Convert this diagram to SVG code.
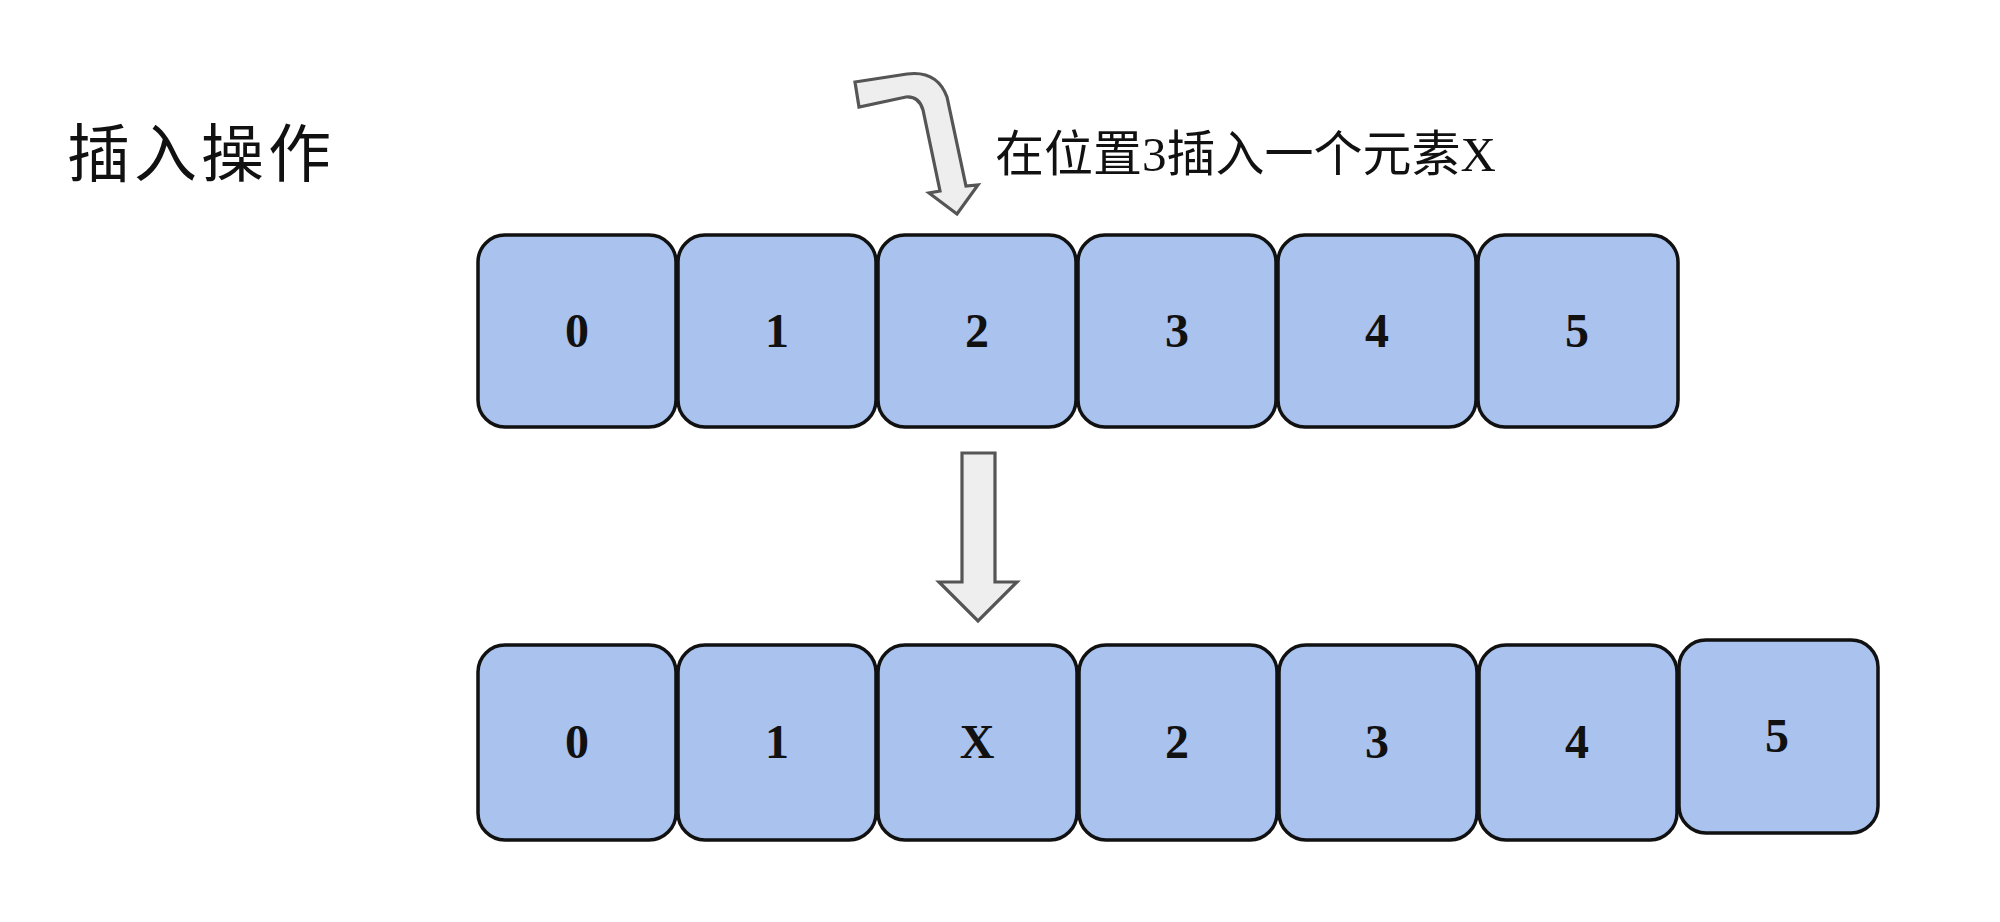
<svg xmlns="http://www.w3.org/2000/svg" width="2000" height="922" viewBox="0 0 2000 922">
<style>
.box{fill:#a9c2ee;stroke:#111;stroke-width:3.5}
.lbl{font-family:"Liberation Serif","Times New Roman",serif;font-weight:bold;font-size:48px;fill:#111;text-anchor:middle}
.arr{fill:#eeeeee;stroke:#555555;stroke-width:3.2;stroke-linejoin:miter}
.cjk{font-family:"Liberation Serif","Noto Sans CJK SC",serif;fill:#111}
</style>
<rect width="2000" height="922" fill="#ffffff"/>
<text id="title" class="cjk" x="67" y="176" font-size="63" letter-spacing="4">插入操作</text>
<text id="note" class="cjk" x="995" y="171" font-size="49">在位置3插入一个元素X</text>
<g id="connectors">
<path class="arr" d="M855,82 L907,74 Q937,70 947,97 L966,186 L978,185 L957,214 L929,193 L940,191 L923,110 Q919,96 906,97 L859,107 Z"/>
<path class="arr" d="M962,453 L995,453 L995,582 L1017,582 L978,621 L939,582 L962,582 Z"/>
</g>
<g id="top-row">
<g id="t0"><rect class="box" x="478" y="235" width="198" height="192" rx="27"/><text class="lbl" x="577" y="347">0</text></g>
<g id="t1"><rect class="box" x="678" y="235" width="198" height="192" rx="27"/><text class="lbl" x="777" y="347">1</text></g>
<g id="t2"><rect class="box" x="878" y="235" width="198" height="192" rx="27"/><text class="lbl" x="977" y="347">2</text></g>
<g id="t3"><rect class="box" x="1078" y="235" width="198" height="192" rx="27"/><text class="lbl" x="1177" y="347">3</text></g>
<g id="t4"><rect class="box" x="1278" y="235" width="198" height="192" rx="27"/><text class="lbl" x="1377" y="347">4</text></g>
<g id="t5"><rect class="box" x="1478" y="235" width="200" height="192" rx="27"/><text class="lbl" x="1577" y="347">5</text></g>
</g>
<g id="bottom-row">
<g id="b0"><rect class="box" x="478" y="645" width="198" height="195" rx="27"/><text class="lbl" x="577" y="758">0</text></g>
<g id="b1"><rect class="box" x="678" y="645" width="198" height="195" rx="27"/><text class="lbl" x="777" y="758">1</text></g>
<g id="bX"><rect class="box" x="878" y="645" width="199" height="195" rx="27"/><text class="lbl" x="977" y="758">X</text></g>
<g id="b2"><rect class="box" x="1079" y="645" width="198" height="195" rx="27"/><text class="lbl" x="1177" y="758">2</text></g>
<g id="b3"><rect class="box" x="1279" y="645" width="198" height="195" rx="27"/><text class="lbl" x="1377" y="758">3</text></g>
<g id="b4"><rect class="box" x="1479" y="645" width="198" height="195" rx="27"/><text class="lbl" x="1577" y="758">4</text></g>
<g id="b5"><rect class="box" x="1679" y="640" width="199" height="193" rx="27"/><text class="lbl" x="1777" y="752">5</text></g>
</g>
</svg>
